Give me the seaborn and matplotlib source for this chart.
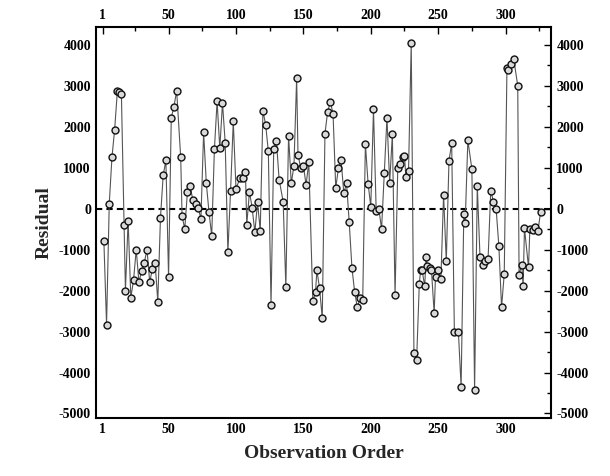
import numpy as np
import pandas as pd
import matplotlib
matplotlib.use("Agg")
import matplotlib.pyplot as plt
from matplotlib.ticker import MultipleLocator, FixedLocator
import seaborn as sns

obs = [2, 4, 6, 8, 10, 12, 13, 15, 17, 18, 20, 22, 24, 26, 28, 30, 32, 34, 36, 38,
       40, 42, 44, 46, 48, 50, 52, 54, 56, 59, 60, 62, 64, 66, 68, 70, 72, 74, 76, 78,
       80, 82, 84, 86, 88, 90, 92, 94, 96, 98, 100, 103, 105, 107, 108, 110, 112, 114, 116, 118,
       120, 122, 124, 126, 128, 130, 132, 135, 137, 139, 141, 143, 145, 146, 148, 150, 152, 154, 157, 159,
       160, 162, 164, 166, 168, 170, 172, 174, 176, 178, 180, 182, 184, 186, 188, 190, 192, 194, 196, 198,
       200, 202, 204, 206, 208, 210, 212, 214, 216, 218, 220, 222, 224, 225, 226, 228, 230, 232, 234, 236,
       237, 238, 240, 241, 242, 244, 245, 247, 248, 250, 252, 254, 256, 258, 260, 262, 265, 267, 269, 270,
       272, 275, 277, 279, 281, 283, 285, 287, 289, 291, 293, 295, 297, 299, 301, 302, 304, 306, 309, 310,
       312, 313, 314, 317, 318, 320, 322, 324, 326]
residual = [-780, -2830, 120, 1250, 1930, 2860, 2840, 2800, -410, -2000, -290, -2170, -1750, -1000, -1790, -1530, -1315, -1000, -1790, -1480,
            -1315, -2270, -220, 810, 1180, -1670, 2220, 2490, 2880, 1250, -170, -500, 410, 550, 210, 110, 10, -250, 1860, 620,
            -90, -660, 1450, 2620, 1470, 2580, 1610, -1050, 440, 2130, 490, 740, 750, 900, -390, 410, 20, -580, 150, -540,
            2390, 2050, 1400, -2350, 1460, 1650, 710, 170, -1920, 1780, 620, 1040, 3190, 1320, 1000, 1050, 580, 1130, -2250, -2045,
            -1510, -1940, -2680, 1830, 2370, 2600, 2320, 510, 980, 1180, 370, 630, -330, -1440, -2030, -2410, -2190, -2240, 1580, 610,
            50, 2420, -60, -10, -500, 880, 2220, 630, 1810, -2120, 980, 1090, 1270, 1290, 780, 930, 4050, -3520, -3690, -1830,
            -1500, -1490, -1900, -1170, -1410, -1440, -1500, -2550, -1660, -1490, -1710, 340, -1290, 1170, 1590, -3020, -3020, -4350, -120, -360,
            1670, 960, -4430, 550, -1170, -1370, -1270, -1230, 440, 170, -20, -910, -2410, -1590, 3440, 3380, 3540, 3660, 3000, -1615,
            -1370, -1900, -480, -1430, -500, -520, -455, -540, -70]

df = pd.DataFrame({"Observation Order": obs, "Residual": residual})

sns.set_style("white")
plt.rcParams["font.family"] = ["Liberation Serif", "DejaVu Serif"]
plt.rcParams["font.weight"] = "bold"

fig = plt.figure(figsize=(6.10, 4.76), dpi=100)
ax = fig.add_axes([0.157, 0.121, 0.747, 0.822])

sns.lineplot(data=df, x="Observation Order", y="Residual", sort=False, ax=ax,
             color="#555555", linewidth=0.8, marker="o", markersize=5,
             markerfacecolor="#d9d9d9", markeredgecolor="#111111", markeredgewidth=1.0,
             estimator=None)
ax.axhline(0, color="black", linestyle=(0, (3, 2)), linewidth=1.5, zorder=1)

xmajor = [1, 50, 100, 150, 200, 250, 300]
ymajor = [-5000, -4000, -3000, -2000, -1000, 0, 1000, 2000, 3000, 4000]
ax.set_xticks(xmajor)
ax.set_xticklabels([str(v) for v in xmajor], fontweight="bold")
ax.set_yticks(ymajor)
ax.set_yticklabels([str(v) for v in ymajor], fontweight="bold")
ax.xaxis.set_minor_locator(FixedLocator([25, 75, 125, 175, 225, 275, 325]))
ax.yaxis.set_minor_locator(MultipleLocator(500))
ax.set_xlim(-4, 334)
ax.set_ylim(-5120, 4430)

ax.tick_params(axis="both", which="both", direction="in", top=True, right=True,
               labeltop=True, labelright=True, labelsize=10, width=1.0, colors="black")
ax.tick_params(which="major", length=5)
ax.tick_params(which="minor", length=3)

for s in ax.spines.values():
    s.set_linewidth(1.5)
    s.set_color("black")

ax.set_xlabel("Observation Order", fontsize=14, fontweight="bold", labelpad=6)
ax.set_ylabel("Residual", fontsize=14, fontweight="bold", labelpad=4)

fig.savefig("out.png", dpi=100)
